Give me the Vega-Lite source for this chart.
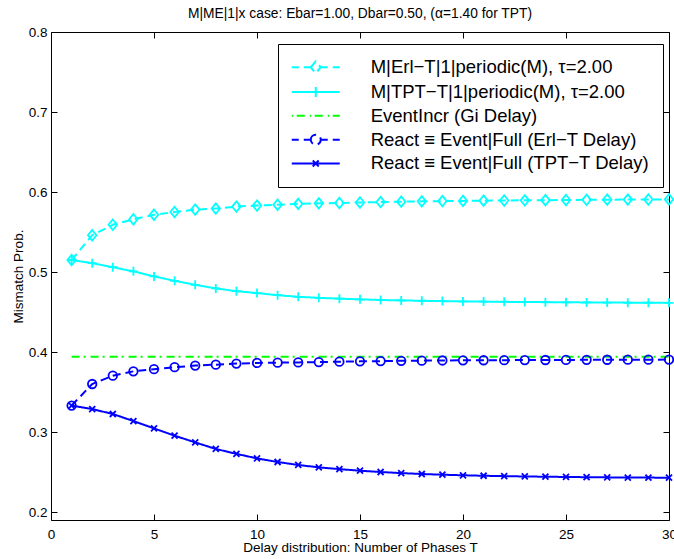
{
  "$schema": "https://vega.github.io/schema/vega-lite/v6.json",
  "width": 618,
  "height": 488,
  "autosize": {"type": "none"},
  "padding": {"left": 51, "top": 32, "right": 5, "bottom": 39},
  "title": {"text": "M|ME|1|x case: Ebar=1.00, Dbar=0.50, (α=1.40 for TPT)", "fontSize": 13.8, "fontWeight": "normal", "color": "black", "font": "Liberation Sans", "offset": 4},
  "data": {"values": [
    {"T": 1, "a": 0.515, "b": 0.515, "c": 0.394, "d": 0.333, "e": 0.333},
    {"T": 2, "a": 0.546, "b": 0.511, "c": 0.394, "d": 0.360, "e": 0.3287},
    {"T": 3, "a": 0.559, "b": 0.506, "c": 0.394, "d": 0.3704, "e": 0.3225},
    {"T": 4, "a": 0.566, "b": 0.5008, "c": 0.394, "d": 0.3758, "e": 0.3137},
    {"T": 5, "a": 0.5715, "b": 0.4945, "c": 0.394, "d": 0.3785, "e": 0.3045},
    {"T": 6, "a": 0.575, "b": 0.489, "c": 0.394, "d": 0.381, "e": 0.2954},
    {"T": 7, "a": 0.578, "b": 0.484, "c": 0.394, "d": 0.383, "e": 0.287},
    {"T": 8, "a": 0.5793, "b": 0.4795, "c": 0.394, "d": 0.3842, "e": 0.2788},
    {"T": 9, "a": 0.5818, "b": 0.476, "c": 0.394, "d": 0.3855, "e": 0.2727},
    {"T": 10, "a": 0.583, "b": 0.4737, "c": 0.394, "d": 0.3863, "e": 0.267},
    {"T": 11, "a": 0.584, "b": 0.471, "c": 0.394, "d": 0.3867, "e": 0.2625},
    {"T": 12, "a": 0.5852, "b": 0.469, "c": 0.394, "d": 0.387, "e": 0.2588},
    {"T": 13, "a": 0.5858, "b": 0.4677, "c": 0.394, "d": 0.3874, "e": 0.2558},
    {"T": 14, "a": 0.5863, "b": 0.4667, "c": 0.394, "d": 0.3879, "e": 0.2536},
    {"T": 15, "a": 0.5869, "b": 0.4658, "c": 0.394, "d": 0.3883, "e": 0.2516},
    {"T": 16, "a": 0.5874, "b": 0.465, "c": 0.394, "d": 0.3886, "e": 0.25},
    {"T": 17, "a": 0.5879, "b": 0.4645, "c": 0.394, "d": 0.389, "e": 0.2486},
    {"T": 18, "a": 0.5883, "b": 0.464, "c": 0.394, "d": 0.3892, "e": 0.2475},
    {"T": 19, "a": 0.5886, "b": 0.4636, "c": 0.394, "d": 0.3894, "e": 0.2466},
    {"T": 20, "a": 0.5889, "b": 0.4632, "c": 0.394, "d": 0.3896, "e": 0.2459},
    {"T": 21, "a": 0.5892, "b": 0.463, "c": 0.394, "d": 0.3897, "e": 0.2453},
    {"T": 22, "a": 0.5894, "b": 0.4627, "c": 0.394, "d": 0.3898, "e": 0.2448},
    {"T": 23, "a": 0.5896, "b": 0.4625, "c": 0.394, "d": 0.3899, "e": 0.2444},
    {"T": 24, "a": 0.5898, "b": 0.4623, "c": 0.394, "d": 0.39, "e": 0.2441},
    {"T": 25, "a": 0.59, "b": 0.4621, "c": 0.394, "d": 0.3901, "e": 0.2438},
    {"T": 26, "a": 0.5902, "b": 0.462, "c": 0.394, "d": 0.3902, "e": 0.2435},
    {"T": 27, "a": 0.5904, "b": 0.4618, "c": 0.394, "d": 0.3903, "e": 0.2433},
    {"T": 28, "a": 0.5905, "b": 0.4617, "c": 0.394, "d": 0.3904, "e": 0.2431},
    {"T": 29, "a": 0.5906, "b": 0.4616, "c": 0.394, "d": 0.3904, "e": 0.243},
    {"T": 30, "a": 0.5907, "b": 0.4615, "c": 0.394, "d": 0.3905, "e": 0.2429}
  ]},
  "transform": [{"fold": ["a", "b", "c", "d", "e"], "as": ["s", "p"]}],
  "encoding": {
    "color": {
      "field": "s", "type": "nominal",
      "scale": {"domain": ["a", "b", "c", "d", "e"], "range": ["#00ffff", "#00ffff", "#00ff00", "#0000ff", "#0000ff"]},
      "legend": {
        "orient": "none", "legendX": 227, "legendY": 12, "title": null, "padding": 14,
        "strokeColor": "black", "fillColor": "white",
        "labelFontSize": 18.5, "labelFont": "Liberation Sans", "labelColor": "black", "labelLimit": 500,
        "rowPadding": 4.8, "symbolOffset": 14.5, "labelOffset": 45.7,
        "symbolSize": 100, "symbolStrokeWidth": 2,
        "labelExpr": "{'a': 'M|Erl−T|1|periodic(M), τ=2.00', 'b': 'M|TPT−T|1|periodic(M), τ=2.00', 'c': 'EventIncr (Gi Delay)', 'd': 'React ≡ Event|Full (Erl−T Delay)', 'e': 'React ≡ Event|Full (TPT−T Delay)'}[datum.value]",
        "encode": {"symbols": {"update": {
          "shape": {"signal": "datum.value === 'a' ? 'M-4.8,0H-3.4M-2.4,0H-1M-1,0L0,-1.2L1,0L0,1.2ZM1,0H2.4M3.4,0H4.8' : datum.value === 'b' ? 'M-4.8,0H4.8M0,-1V1' : datum.value === 'c' ? 'M-4.8,0H-4.5M-3.8,0H-1.8M-1.2,0H-0.9M-0.2,0H1.8M2.4,0H2.7M3.4,0H4.8' : datum.value === 'd' ? 'M-4.8,0H-3.4M-2.4,0H-1M-1,0A1,1,0,1,1,1,0A1,1,0,1,1,-1,0M1,0H2.4M3.4,0H4.8' : 'M-4.8,0H4.8M-0.6,-0.6L0.6,0.6M-0.6,0.6L0.6,-0.6'"},
          "fill": {"value": "transparent"},
          "strokeDash": {"value": [1, 0]},
          "strokeWidth": {"value": 2},
          "size": {"value": 100},
          "opacity": {"value": 1}
        }}}
      }
    }
  },
  "layer": [
    {
      "mark": {"type": "line", "strokeWidth": 2},
      "encoding": {
        "x": {"field": "T", "type": "quantitative", "scale": {"domain": [0, 30], "nice": false, "zero": false},
          "axis": {"orient": "bottom", "values": [0, 5, 10, 15, 20, 25, 30], "labelPadding": 13, "labelFlush": false, "labelOverlap": false, "title": "Delay distribution: Number of Phases T", "titlePadding": 0}},
        "y": {"field": "p", "type": "quantitative", "scale": {"domain": [0.19, 0.8], "nice": false, "zero": false},
          "axis": {"orient": "left", "values": [0.2, 0.3, 0.4, 0.5, 0.6, 0.7, 0.8], "format": ".1f", "labelPadding": 10, "labelOverlap": false, "title": "Mismatch Prob.", "titlePadding": 3}},
        "strokeDash": {"field": "s", "type": "nominal",
          "scale": {"domain": ["a", "b", "c", "d", "e"], "range": [[8, 5], [1, 0], [8, 4, 2, 5], [8, 5], [1, 0]]},
          "legend": null}
      }
    },
    {
      "transform": [{"filter": "datum.s !== 'c'"}],
      "mark": {"type": "point", "filled": false, "size": 100, "strokeWidth": 1.8, "opacity": 1},
      "encoding": {
        "x": {"field": "T", "type": "quantitative",
          "axis": {"orient": "top", "values": [0, 5, 10, 15, 20, 25, 30], "labels": false, "title": null}},
        "y": {"field": "p", "type": "quantitative",
          "axis": {"orient": "right", "values": [0.2, 0.3, 0.4, 0.5, 0.6, 0.7, 0.8], "labels": false, "title": null}},
        "shape": {"field": "s", "type": "nominal",
          "scale": {"domain": ["a", "b", "d", "e"], "range": ["M0,-1.05L0.85,0L0,1.05L-0.85,0Z", "M-0.9,0H0.9M0,-0.9V0.9", "M-0.85,0A0.85,0.85,0,1,1,0.85,0A0.85,0.85,0,1,1,-0.85,0Z", "M-0.6,-0.6L0.6,0.6M-0.6,0.6L0.6,-0.6"]},
          "legend": null}
      }
    }
  ],
  "resolve": {"axis": {"x": "independent", "y": "independent"}},
  "config": {
    "view": {"stroke": "black", "strokeWidth": 1},
    "font": "Liberation Sans",
    "axis": {"domain": false, "grid": false, "tickColor": "black", "tickSize": -6, "tickWidth": 1,
      "labelColor": "black", "labelFontSize": 13.5, "labelFont": "Liberation Sans",
      "titleColor": "black", "titleFontSize": 13.5, "titleFontWeight": "normal", "titleFont": "Liberation Sans"}
  }
}
